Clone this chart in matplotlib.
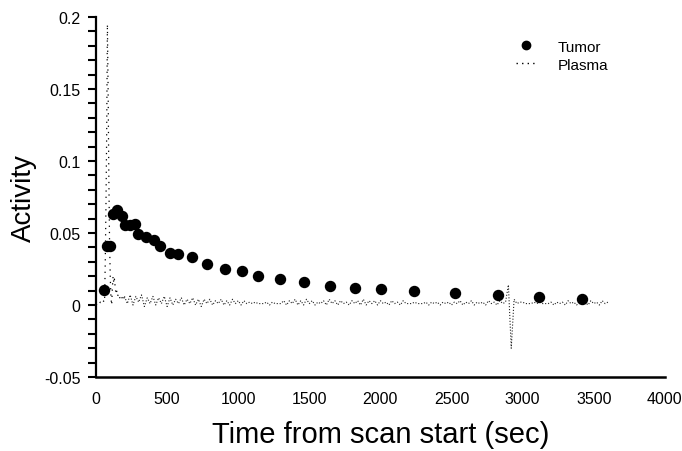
import numpy as np
import matplotlib
matplotlib.use("Agg")
import matplotlib.pyplot as plt
from matplotlib.ticker import MultipleLocator, FixedLocator
from matplotlib.lines import Line2D

plt.rcParams['font.family'] = ['Liberation Sans', 'DejaVu Sans']

# ---------------- data ----------------
tumor_time = [56, 75, 96, 121, 144, 183, 207, 242, 272, 295, 348, 411, 453, 521,
              580, 674, 780, 906, 1026, 1138, 1296, 1465, 1645, 1824, 2007,
              2239, 2525, 2827, 3117, 3420]
tumor_act = [0.0106, 0.0412, 0.0412, 0.0634, 0.0658, 0.0620, 0.0558, 0.0556, 0.0563,
             0.0491, 0.0470, 0.0453, 0.0408, 0.0363, 0.0356, 0.0331, 0.0285, 0.0250,
             0.0234, 0.0201, 0.0181, 0.0158, 0.0132, 0.0120, 0.0113, 0.0095, 0.0081,
             0.0069, 0.0056, 0.0042]

plasma_early_time = [0, 10, 20, 30, 40, 50, 60, 65, 70, 75, 80, 85, 90, 95, 100,
                     105, 110, 115, 120, 125, 130, 135, 140, 145, 150, 160, 170, 180, 190]
plasma_early_act = [0.000, 0.001, 0.000, 0.002, 0.001, 0.003, 0.002, 0.030, 0.070,
                    0.120, 0.195, 0.150, 0.090, 0.045, 0.020, 0.005, 0.000, 0.012,
                    0.020, 0.015, 0.018, 0.012, 0.008, 0.010, 0.006, 0.008, 0.004,
                    0.006, 0.003]

plasma_tail_act = [
    0.006, 0.001, 0.007, 0.000, 0.006, 0.002, 0.007, -0.001, 0.005, 0.001,
    0.006, 0.000, 0.005, 0.001, 0.006, -0.001, 0.005, 0.000, 0.004, 0.001,
    0.005, 0.000, 0.004, 0.001, 0.005, 0.000, 0.004, -0.001, 0.004, 0.001,
    0.004, 0.000, 0.003, 0.001, 0.004, 0.000, 0.003, 0.000, 0.004, 0.001,
    0.003, 0.000, 0.003, 0.001, 0.002, 0.001, 0.002, 0.001, 0.001, 0.001,
    0.002, 0.000, 0.002, 0.001, 0.001, 0.001, 0.003, 0.000, 0.003, 0.001,
    0.004, 0.000, 0.003, 0.000, 0.004, 0.001, 0.003, 0.000, 0.002, 0.001,
    0.003, 0.000, 0.004, 0.001, 0.003, 0.000, 0.003, 0.001, 0.002, 0.000,
    0.003, 0.001, 0.003, 0.000, 0.004, 0.000, 0.003, 0.001, 0.003, 0.000,
    0.003, 0.001, 0.002, 0.000, 0.003, 0.001, 0.002, 0.000, 0.003, 0.001,
    0.001, 0.001, 0.002, 0.001, 0.001, 0.001, 0.002, 0.000, 0.002, 0.001,
    0.002, 0.000, 0.002, 0.001, 0.002, 0.000, 0.002, 0.001, 0.003, 0.000,
    0.002, 0.001, 0.003, 0.000, 0.002, 0.001, 0.002, 0.000, 0.003, 0.001,
    0.002, 0.000, 0.003, 0.001, 0.002, 0.014, -0.030, 0.004, 0.001, 0.002,
    0.002, 0.001, 0.001, 0.001, 0.002, 0.001, 0.002, 0.001, 0.001, 0.001,
    0.002, 0.000, 0.002, 0.001, 0.002, 0.000, 0.003, 0.001, 0.002, 0.000,
    0.003, 0.001, 0.002, 0.000, 0.003, 0.001, 0.002, 0.000, 0.003, 0.001, 0.002,
]
plasma_tail_time = np.arange(200, 200 + 20 * len(plasma_tail_act), 20)

x_ticks = [0, 500, 1000, 1500, 2000, 2500, 3000, 3500, 4000]
y_ticks = [-0.05, 0, 0.05, 0.1, 0.15, 0.2]
y_tick_labels = ['-0.05', '0', '0.05', '0.1', '0.15', '0.2']

# ---------------- figure ----------------
fig = plt.figure(figsize=(6.82, 4.52), dpi=100)
ax = fig.add_axes([0.1408, 0.1637, 0.834, 0.7963])

# plasma: sparse dots for the sharp early peak, dense dotted zigzag afterwards
early_t = list(plasma_early_time) + [plasma_tail_time[0]]
early_a = list(plasma_early_act) + [plasma_tail_act[0]]
ax.plot(early_t, early_a, linestyle=(0, (1, 4)), color='black', lw=0.9)
ax.plot(plasma_tail_time, plasma_tail_act, linestyle=':', color='#222222', lw=0.8)

ax.plot(tumor_time, tumor_act, linestyle='none', marker='o', color='black',
        markersize=7.2)

ax.set_xlim(0, 4000)
ax.set_ylim(-0.05, 0.2)

ax.spines['top'].set_visible(False)
ax.spines['right'].set_visible(False)
ax.spines['left'].set_linewidth(1.6)
ax.spines['bottom'].set_linewidth(1.8)

ax.xaxis.set_major_locator(FixedLocator(x_ticks))
ax.set_xticklabels([str(v) for v in x_ticks])
ax.tick_params(axis='x', length=0, pad=10, labelsize=11.5)

ax.yaxis.set_major_locator(FixedLocator(y_ticks))
ax.set_yticklabels(y_tick_labels)
ax.yaxis.set_minor_locator(MultipleLocator(0.01))
ax.tick_params(axis='y', which='major', length=6, width=1.5, direction='out',
               labelsize=11.5, pad=5)
ax.tick_params(axis='y', which='minor', length=6, width=1.5, direction='out')

ax.set_xlabel('Time from scan start (sec)', fontsize=21, labelpad=10)
ax.set_ylabel('Activity', fontsize=20, labelpad=5)

handles = [Line2D([], [], linestyle='none', marker='o', color='black', markersize=6),
           Line2D([], [], linestyle=(0, (1, 3)), color='black', lw=1.0)]
ax.legend(handles, ['Tumor', 'Plasma'], loc='upper left',
          bbox_to_anchor=(0.715, 0.975), frameon=False, fontsize=11,
          handlelength=1.2, handletextpad=1.5, labelspacing=0.25)

fig.savefig('out.png', dpi=100)
